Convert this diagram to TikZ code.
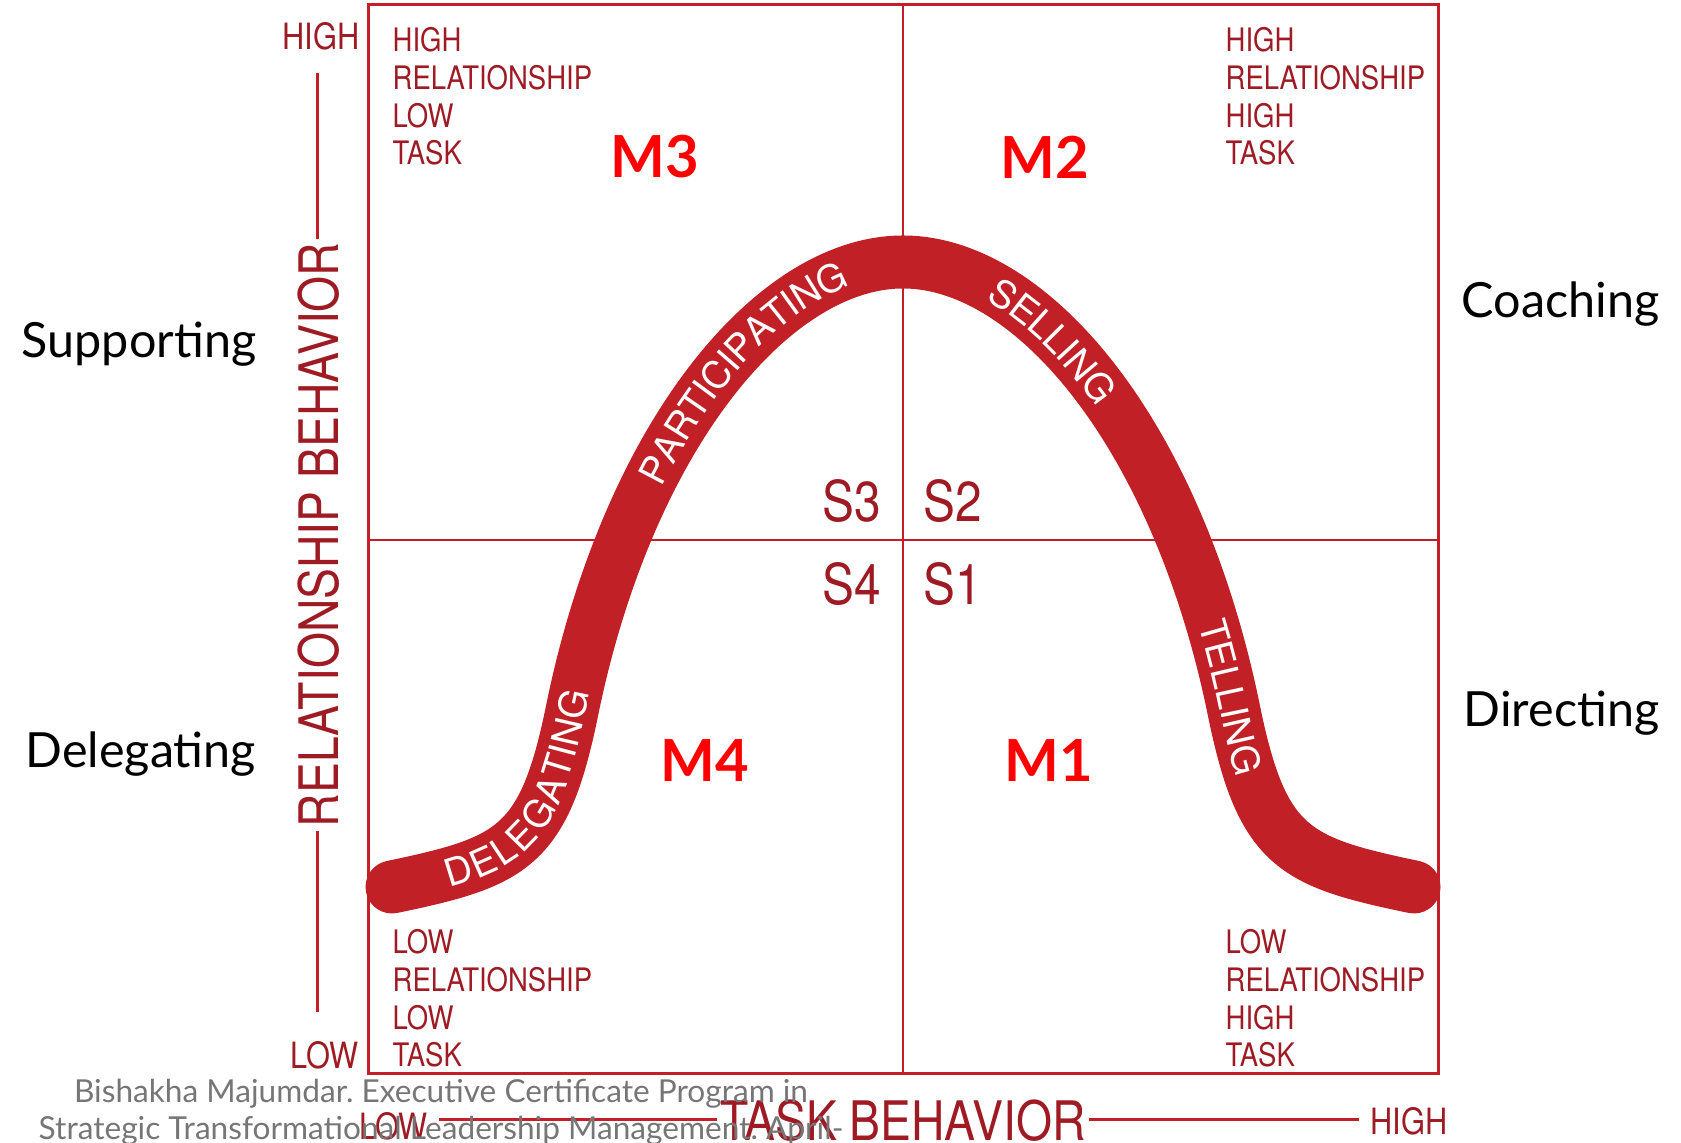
\documentclass[tikz,border=0pt]{standalone}
\usepackage{fontspec}
\setmainfont{Lato}
\newfontfamily\redfont[FakeStretch=0.85]{TeX Gyre Heros}
\newfontfamily\bandfont{TeX Gyre Heros}
\usetikzlibrary{decorations.text}
\definecolor{bandred}{RGB}{193,32,39}
\definecolor{boxred}{RGB}{196,30,40}
\definecolor{txtred}{RGB}{158,27,36}
\definecolor{mred}{RGB}{255,0,0}
\definecolor{citegray}{RGB}{118,118,118}
\frenchspacing
\tikzstyle{boxline}=[draw=boxred,line width=0.3mm]
\tikzstyle{midline}=[draw=boxred,line width=0.25mm]
\tikzstyle{axisline}=[draw=boxred,line width=0.3mm]
\tikzstyle{band}=[draw=bandred,line width=5.3mm,line cap=round]
\tikzstyle{quadtext}=[text=txtred,font=\redfont\fontsize{9.2}{10.8}\selectfont,align=left,anchor=base west,inner sep=0pt]
\tikzstyle{slabel}=[text=txtred,font=\redfont\fontsize{16}{18}\selectfont,inner sep=0pt]
\tikzstyle{mlabel}=[text=mred,font=\bfseries\fontsize{16.5}{18}\selectfont,inner sep=0pt]
\tikzstyle{stylelabel}=[text=black,font=\fontsize{13.8}{16}\selectfont,anchor=base west,inner sep=0pt]
\tikzstyle{axislabel}=[text=txtred,font=\redfont\fontsize{10.3}{12}\selectfont,inner sep=0pt]
\tikzstyle{axistitle}=[text=txtred,font=\redfont\fontsize{15.5}{18}\selectfont,fill=white,inner sep=1pt]
\tikzstyle{citation}=[text=citegray,font=\fontsize{9}{10.8}\selectfont,align=center,anchor=base,inner sep=0pt]
\tikzset{bandword/.style 2 args={decorate,decoration={text along path,text={|\bandfont\fontsize{10.8}{12}\selectfont|#1},text color=white,text align={left indent=#2},raise=-3.9pt}}}

\begin{document}
\begin{tikzpicture}[x=0.1mm,y=0.1mm]

  \useasboundingbox (0,0) rectangle (1681,1143);

  % frame and quadrants
  \draw[boxline] (368,69) rectangle (1438,1138);
  \coordinate (top) at (903,1138);
  \coordinate (bot) at (903,69);
  \coordinate (lft) at (368,603);
  \coordinate (rgt) at (1438,603);
  \path[midline] (top) -- (bot);
  \path[midline] (lft) -- (rgt);

  % axes
  \coordinate (yhi) at (317,1070);
  \coordinate (ylo) at (317,131);
  \coordinate (xlo) at (439,23);
  \coordinate (xhi) at (1359,23);
  \path[axisline] (yhi) -- (ylo);
  \path[axisline] (xlo) -- (xhi);
  \node[axistitle,rotate=90] (relaxis) at (319,608) {RELATIONSHIP BEHAVIOR};
  \node[axistitle] (taskaxis) at (903,22) {TASK BEHAVIOR};
  \node[axislabel,anchor=base east] (yhigh) at (360,1093) {HIGH};
  \node[axislabel,anchor=base east] (ylow) at (359,74) {LOW};
  \node[axislabel,anchor=base west] (xlow) at (359,3) {LOW};
  \node[axislabel,anchor=base west] (xhigh) at (1370,8) {HIGH};

  % the curve
  \coordinate (c0) at (392,256);
  \coordinate (c1) at (572,432);
  \coordinate (c2) at (615.5,584.3);
  \coordinate (c3) at (903,881);
  \coordinate (c4) at (1190.5,584.3);
  \coordinate (c5) at (1234,432);
  \coordinate (c6) at (1414,256);
  \path[band] (c0) .. controls (512,281) and (544,295) .. (c1)
     .. controls (583.2,487) and (598,538) .. (c2)
     .. controls (685.4,769.6) and (799,881) .. (c3)
     .. controls (1007,881) and (1120.6,769.6) .. (c4)
     .. controls (1208,538) and (1222.8,487) .. (c5)
     .. controls (1262,295) and (1294,281) .. (c6);

  \path[bandword={DELEGATING}{5.5mm}] (c0) .. controls (512,281) and (544,295) .. (c1)
     .. controls (583.2,487) and (598,538) .. (c2);
  \path[bandword={PARTICIPATING}{8.5mm}] (c2) .. controls (685.4,769.6) and (799,881) .. (c3);
  \path[bandword={SELLING}{9.5mm}] (c3) .. controls (1007,881) and (1120.6,769.6) .. (c4);
  \path[bandword={TELLING}{6.5mm}] (c4) .. controls (1208,538) and (1222.8,487) .. (c5)
     .. controls (1262,295) and (1294,281) .. (c6);

  % quadrant texts
  \foreach \x/\y/\name/\txt in {392/978/hrlt/{HIGH\\RELATIONSHIP\\LOW\\TASK},
                                1225/978/hrht/{HIGH\\RELATIONSHIP\\HIGH\\TASK},
                                392/76/lrlt/{LOW\\RELATIONSHIP\\LOW\\TASK},
                                1225/76/lrht/{LOW\\RELATIONSHIP\\HIGH\\TASK}}
     \node[quadtext] (\name) at (\x,\y) {\txt};

  \node[slabel,anchor=base east] (s3) at (882,621) {S3};
  \node[slabel,anchor=base west] (s2) at (923,621) {S2};
  \node[slabel,anchor=base east] (s4) at (882,538) {S4};
  \node[slabel,anchor=base west] (s1) at (923,538) {S1};

  \foreach \x/\y/\name in {655/986/M3, 1045/986/M2, 705/382/M4, 1049/382/M1}
     \node[mlabel] (\name) at (\x,\y) {\name};

  % styles
  \node[stylelabel] (supporting) at (21,785) {Supporting};
  \node[stylelabel] (delegating) at (25,375) {Delegating};
  \node[stylelabel] (coaching) at (1461,825) {Coaching};
  \node[stylelabel] (directing) at (1463,416) {Directing};

  \node[citation] (cite) at (441,3) {Bishakha Majumdar. Executive Certificate Program in\\Strategic Transformational Leadership Management. April-};

\end{tikzpicture}
\end{document}
